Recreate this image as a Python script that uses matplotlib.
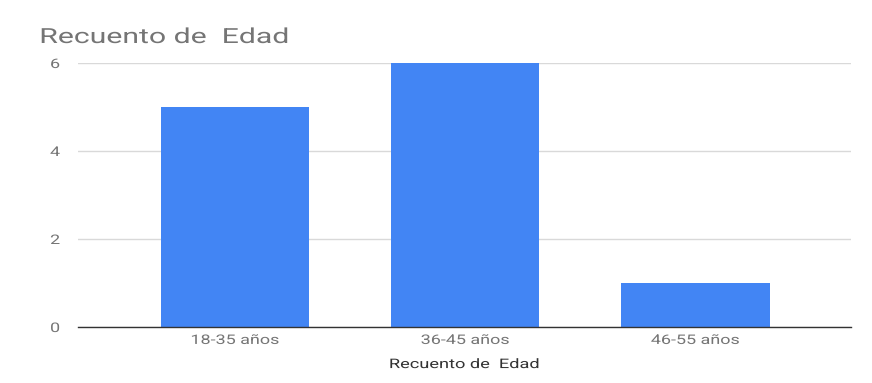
import matplotlib
matplotlib.use("Agg")
import matplotlib.pyplot as plt
from matplotlib.patheffects import AbstractPathEffect
from matplotlib.transforms import Affine2D

categories = ["18-35 años", "36-45 años", "46-55 años"]
counts = [5, 6, 1]
y_ticks = [0, 2, 4, 6]
title = "Recuento de  Edad"
x_label = "Recuento de  Edad"

plt.rcParams["font.family"] = ["Roboto", "DejaVu Sans"]


class WideText(AbstractPathEffect):
    """Widen glyphs horizontally around an anchor (0 left, 0.5 centre, 1 right)."""

    def __init__(self, sx, anchor=0.0):
        super().__init__()
        self.sx = sx
        self.anchor = anchor

    def draw_path(self, renderer, gc, tpath, affine, rgbFace=None):
        ext = tpath.get_extents()
        x0 = ext.x0 + self.anchor * (ext.x1 - ext.x0)
        stretch = Affine2D().translate(-x0, 0).scale(self.sx, 1).translate(x0, 0)
        renderer.draw_path(gc, tpath, stretch + affine, rgbFace)


fig = plt.figure(figsize=(8.72, 3.83), dpi=100)
ax = fig.add_axes([78 / 872, 1 - 327 / 383, (851 - 78) / 872, (327 - 63) / 383])

x = list(range(len(categories)))
ax.bar(x, counts, width=0.645, color="#4285F4", zorder=3)

ax.set_xlim(-0.6826, 2.676)
ax.set_ylim(0, 6)
ax.set_yticks(y_ticks)
ylabels = ax.set_yticklabels([str(v) for v in y_ticks])
ax.set_xticks(x)
xlabels = ax.set_xticklabels(categories)

ax.grid(axis="y", color="#d9d9d9", linewidth=1, zorder=0)
for side in ("top", "right", "left"):
    ax.spines[side].set_visible(False)
ax.spines["bottom"].set_color("#333333")
ax.spines["bottom"].set_linewidth(1)
ax.spines["bottom"].set_zorder(4)

ax.tick_params(axis="both", length=0, labelsize=9.5, labelcolor="#757575")
ax.tick_params(axis="y", pad=13)
ax.tick_params(axis="x", pad=5)

for lbl in xlabels:
    lbl.set_path_effects([WideText(1.36, 0.5)])
for lbl in ylabels:
    lbl.set_path_effects([WideText(1.36, 1.0)])

xl = ax.set_xlabel(x_label, fontsize=9.5, color="#333333", labelpad=8)
xl.set_path_effects([WideText(1.38, 0.5)])

t = fig.text(40 / 872, 1 - 37.5 / 383, title, fontsize=15, color="#757575",
             ha="left", va="center")
t.set_path_effects([WideText(1.45, 0.0)])

fig.savefig("out.png", dpi=100)
